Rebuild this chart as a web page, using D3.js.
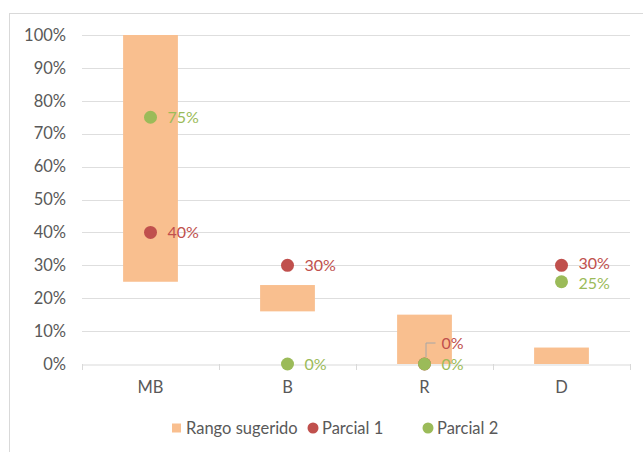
<!DOCTYPE html>
<html><head><meta charset="utf-8">
<script src="https://cdn.jsdelivr.net/npm/d3@7"></script>
<style>body{margin:0;background:#fff}svg{display:block}text{font-family:Lato,"Open Sans",sans-serif}</style>
</head><body><svg id="c" width="643" height="452"></svg>
<script>
const categories = ["MB","B","R","D"];
const rangeLow  = [0.25,0.16,0.00,0.00];
const rangeHigh = [1.00,0.24,0.15,0.05];
const parcial1  = [0.40,0.30,0.00,0.30];
const parcial2  = [0.75,0.00,0.00,0.25];
const yTicks = [0,0.1,0.2,0.3,0.4,0.5,0.6,0.7,0.8,0.9,1.0];
const legendLabels = ["Rango sugerido","Parcial 1","Parcial 2"];

const svg = d3.select("#c");
const colBar="#F9BF8F", colP1="#C0504D", colP2="#9BBB59", txt="#595959";
const fs = "16.5px", lfs = "16px";
svg.append("rect").attr("x",9.5).attr("y",13.5).attr("width",700).attr("height",500)
  .attr("fill","#fff").attr("stroke","#d9d9d9");

const x = d3.scaleBand().domain(categories).range([82,630]);
const y = d3.scaleLinear().domain([0,1]).range([364,35]);
const g = svg.append("g");
g.selectAll(".grid").data(yTicks.slice(1)).join("line")
  .attr("x1",82).attr("x2",630).attr("y1",d=>Math.round(y(d))+0.5).attr("y2",d=>Math.round(y(d))+0.5)
  .attr("stroke","#dedede");
const yAxis = d3.axisLeft(y).tickValues(yTicks).tickFormat(d3.format(".0%")).tickSize(0).tickPadding(16);
const ya = g.append("g").attr("transform","translate(82,0)").call(yAxis);
ya.select(".domain").remove();
ya.selectAll("text").attr("fill",txt).style("font-size",fs);
const xAxis = d3.axisBottom(x).tickSize(0).tickPadding(17);
const xa = g.append("g").attr("transform","translate(0,364.5)").call(xAxis);
xa.select(".domain").attr("stroke","#d9d9d9");
xa.selectAll("text").attr("fill",txt).style("font-size",fs);
const bounds = categories.map(c=>x(c)).concat([x.range()[1]]);
g.selectAll(".bt").data(bounds).join("line")
  .attr("x1",d=>Math.round(d)+0.5).attr("x2",d=>Math.round(d)+0.5).attr("y1",364).attr("y2",370).attr("stroke","#d9d9d9");

const bw = x.bandwidth()*0.4;
g.selectAll(".bar").data(categories).join("rect")
  .attr("x",c=>x(c)+x.bandwidth()/2-bw/2).attr("width",bw)
  .attr("y",(c,i)=>y(rangeHigh[i])).attr("height",(c,i)=>y(rangeLow[i])-y(rangeHigh[i]))
  .attr("fill",colBar);

function series(vals,col,skipLabel,shift){
  g.selectAll(null).data(categories).join("circle")
    .attr("cx",c=>x(c)+x.bandwidth()/2).attr("cy",(c,i)=>y(vals[i])).attr("r",6.5).attr("fill",col);
  g.selectAll(null).data(categories.filter((c,i)=>!(skipLabel&&skipLabel.includes(i)))).join("text")
    .attr("x",c=>x(c)+x.bandwidth()/2+17)
    .attr("y",c=>y(vals[categories.indexOf(c)]) + (c==="D"?shift:0))
    .attr("dy","0.35em").attr("fill",col).style("font-size",lfs)
    .text(c=>d3.format(".0%")(vals[categories.indexOf(c)]));
}
series(parcial1,colP1,[2],-1.5);
series(parcial2,colP2,null,1.5);
const rx = x("R")+x.bandwidth()/2, ry = y(parcial1[2]);
g.append("path").attr("d",`M${rx+1.5},${ry-7}V${ry-21}H${rx+11}`).attr("fill","none").attr("stroke","#a6a6a6");
g.append("text").attr("x",rx+17).attr("y",ry-21).attr("dy","0.35em").attr("fill",colP1).style("font-size",lfs)
  .text(d3.format(".0%")(parcial1[2]));

const lg = svg.append("g").attr("transform","translate(0,428)");
lg.append("rect").attr("x",172).attr("y",-4.5).attr("width",9).attr("height",9).attr("fill",colBar);
lg.append("text").attr("x",186).attr("dy","0.35em").attr("fill",txt).style("font-size",fs).text(legendLabels[0]);
lg.append("circle").attr("cx",313).attr("r",5.5).attr("fill",colP1);
lg.append("text").attr("x",322).attr("dy","0.35em").attr("fill",txt).style("font-size",fs).text(legendLabels[1]);
lg.append("circle").attr("cx",428).attr("r",5.5).attr("fill",colP2);
lg.append("text").attr("x",437).attr("dy","0.35em").attr("fill",txt).style("font-size",fs).text(legendLabels[2]);
</script></body></html>
